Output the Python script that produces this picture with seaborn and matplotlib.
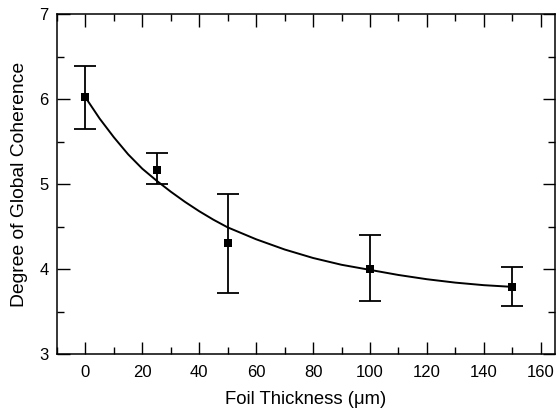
import numpy as np
import pandas as pd
import matplotlib
matplotlib.use("Agg")
import matplotlib.pyplot as plt
import seaborn as sns
from matplotlib.ticker import MultipleLocator

# Data
thickness = [0, 25, 50, 100, 150]
coherence = [6.02, 5.17, 4.31, 4.00, 3.79]
err_upper = [6.39, 5.36, 4.88, 4.40, 4.02]
err_lower = [5.65, 5.00, 3.72, 3.62, 3.56]

# Fitted curve
fit_x = [0, 5, 10, 15, 20, 25, 30, 35, 40, 45, 50, 60, 70, 80, 90, 100,
         110, 120, 130, 140, 150]
fit_y = [6.02, 5.77, 5.55, 5.35, 5.18, 5.04, 4.91, 4.79, 4.68, 4.58, 4.49,
         4.35, 4.23, 4.13, 4.05, 3.99, 3.93, 3.88, 3.84, 3.81, 3.79]

x_label = "Foil Thickness (\u03bcm)"
y_label = "Degree of Global Coherence"

sns.set_theme(style="ticks")
plt.rcParams['font.family'] = ['Liberation Sans', 'DejaVu Sans']

fig = plt.figure(figsize=(5.56, 4.15), dpi=100)
ax = fig.add_axes([0.1025, 0.147, 0.8955, 0.819])

pts = pd.DataFrame({"x": thickness, "y": coherence})
fit = pd.DataFrame({"x": fit_x, "y": fit_y})

sns.lineplot(data=fit, x="x", y="y", ax=ax, color="black", linewidth=1.4,
             sort=False, estimator=None)
yerr = np.array([np.array(coherence) - np.array(err_lower),
                 np.array(err_upper) - np.array(coherence)])
ax.errorbar(thickness, coherence, yerr=yerr, fmt="none", ecolor="black",
            elinewidth=1.3, capsize=8, capthick=1.3)
sns.scatterplot(data=pts, x="x", y="y", ax=ax, marker="s", color="black",
                s=38, edgecolor="black", linewidth=0, zorder=5)

ax.set_xlim(-10, 165)
ax.set_ylim(3, 7)
ax.xaxis.set_major_locator(MultipleLocator(20))
ax.xaxis.set_minor_locator(MultipleLocator(10))
ax.yaxis.set_major_locator(MultipleLocator(1))
ax.yaxis.set_minor_locator(MultipleLocator(0.5))
ax.set_xticks(range(0, 161, 20))

ax.tick_params(which="both", direction="in", top=True, right=True,
               color="black", width=1.0, labelsize=12, labelcolor="black")
ax.tick_params(axis="x", pad=8)
ax.tick_params(axis="y", pad=6)
ax.tick_params(which="major", length=9)
ax.tick_params(which="minor", length=5)
for s in ax.spines.values():
    s.set_linewidth(1.1)
    s.set_color("black")

ax.set_xlabel(x_label, fontsize=13.3, color="black", labelpad=8)
ax.set_ylabel(y_label, fontsize=13.9, color="black", labelpad=8)

fig.savefig("out.png", dpi=100)
